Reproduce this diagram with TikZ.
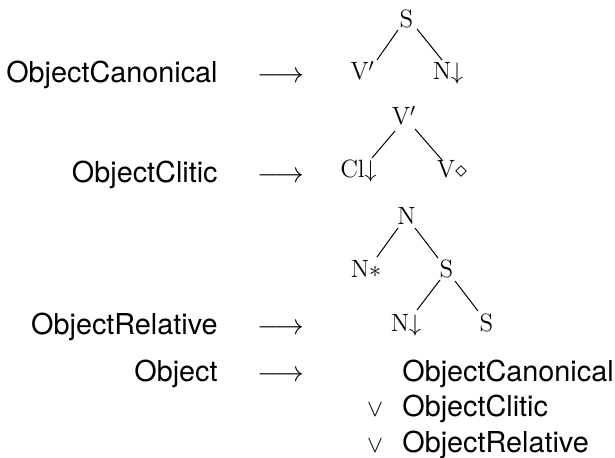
\documentclass[tikz,border=0pt]{standalone}
\usepackage{fontspec}
\setsansfont{TeX Gyre Heros}
\usetikzlibrary{calc}
\begin{document}
\begin{tikzpicture}[x=0.5pt,y=-0.5pt,
  lbl/.style={font=\sffamily\fontsize{14.4}{17}\selectfont, inner sep=0pt},
  lhs/.style={lbl, anchor=base east},
  rhs/.style={lbl, anchor=base west},
  arr/.style={inner sep=0pt, anchor=base, font=\fontsize{13.7}{16}\selectfont},
  orsym/.style={inner sep=0pt, anchor=base, font=\fontsize{12}{14}\selectfont},
  tn/.style={inner sep=0pt, anchor=base, font=\fontsize{12.5}{15}\selectfont},
  branch/.style={line width=0.5pt}]
\useasboundingbox (0,0) rectangle (615,458);
% rules
\node[lhs] (l1) at (218,83) {ObjectCanonical};
\node[arr] (a1) at (281,83) {$\longrightarrow$};
\node[lhs] (l2) at (218,183) {ObjectClitic};
\node[arr] (a2) at (281,183) {$\longrightarrow$};
\node[lhs] (l3) at (218,335) {ObjectRelative};
\node[arr] (a3) at (281,335) {$\longrightarrow$};
\node[lhs] (l4) at (218,382) {Object};
\node[arr] (a4) at (281,382) {$\longrightarrow$};
\node[rhs] (r1) at (402,382) {ObjectCanonical};
\node[orsym] (o1) at (375,417) {$\vee$};
\node[rhs] (r2) at (402,417) {ObjectClitic};
\node[orsym] (o2) at (375,452) {$\vee$};
\node[rhs] (r3) at (402,452) {ObjectRelative};
% tree 1
\node[tn] (t1) at (406.5,28) {$\mathrm{S}$};
\node[tn] (t1a) at (362.5,80) {$\mathrm{V}'$};
\node[tn] (t1b) at (448,80) {$\mathrm{N}{\downarrow}$};
\draw[branch] ($(t1.base)+(-8.5,2)$) -- ($(t1a.base)+(14.5,-20)$);
\draw[branch] ($(t1.base)+(10.5,1)$) -- ($(t1b.base)+(-6,-20)$);
% tree 2
\node[tn] (t2) at (404,125) {$\mathrm{V}'$};
\node[tn] (t2a) at (358.5,178) {$\mathrm{Cl}{\downarrow}$};
\node[tn] (t2b) at (452,178) {$\mathrm{V}{\diamond}$};
\draw[branch] ($(t2.base)+(-9,6)$) -- ($(t2a.base)+(13.5,-20)$);
\draw[branch] ($(t2.base)+(11,4)$) -- ($(t2b.base)+(-10,-18)$);
% tree 3
\node[tn] (t3) at (406.5,225) {$\mathrm{N}$};
\node[tn] (t3a) at (366,278) {$\mathrm{N}{\ast}$};
\node[tn] (t3b) at (446.5,278) {$\mathrm{S}$};
\node[tn] (t3c) at (406,332) {$\mathrm{N}{\downarrow}$};
\node[tn] (t3d) at (486.5,332) {$\mathrm{S}$};
\draw[branch] ($(t3.base)+(-8.5,3)$) -- ($(t3a.base)+(11,-21)$);
\draw[branch] ($(t3.base)+(8.5,3)$) -- ($(t3b.base)+(-8.5,-20)$);
\draw[branch] ($(t3b.base)+(-6.5,2)$) -- ($(t3c.base)+(11,-22)$);
\draw[branch] ($(t3b.base)+(8.5,3)$) -- ($(t3d.base)+(-8.5,-21)$);
\end{tikzpicture}
\end{document}
